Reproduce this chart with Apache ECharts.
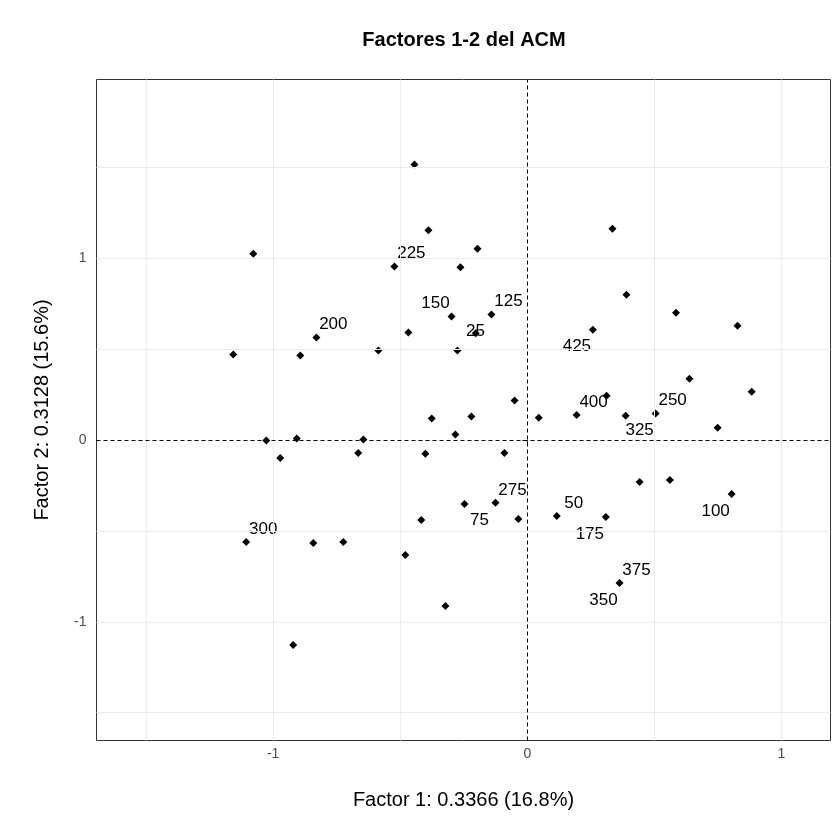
<!DOCTYPE html>
<html>
<head>
<meta charset="utf-8">
<title>Factores 1-2 del ACM</title>
<script src="https://cdn.jsdelivr.net/npm/echarts@6/dist/echarts.min.js"></script>
<style>
  html, body { margin: 0; padding: 0; background: #fff; }
  #chart { width: 840px; height: 840px; }
</style>
</head>
<body>
<div id="chart"></div>
<script>
// coordenadas de los individuos (posiciones distintas) en los factores 1 y 2
var factor1 = [
  -0.444, -1.078, -0.389, -0.196, -0.523, -0.263, -0.298, -0.141, -0.830, -0.468,
  -0.203, -1.157, -0.893, -0.586, -0.275, -0.050, -0.376, -0.220, -0.283, -1.027,
  -0.907, -0.645, 0.335, 0.390, 0.585, 0.258, 0.827, 0.638, 0.883, 0.045,
  0.194, 0.312, 0.387, 0.505, 0.749, -0.972, -0.665, -0.401, -0.090, -0.247,
  -0.125, -0.417, -0.035, -1.106, -0.842, -0.724, -0.480, -0.322, -0.921, 0.442,
  0.561, 0.804, 0.116, 0.309, 0.363
];
var factor2 = [
  1.517, 1.026, 1.155, 1.054, 0.956, 0.951, 0.681, 0.692, 0.565, 0.593,
  0.589, 0.472, 0.466, 0.494, 0.494, 0.218, 0.119, 0.130, 0.031, -0.002,
  0.009, 0.003, 1.164, 0.800, 0.701, 0.608, 0.630, 0.338, 0.266, 0.123,
  0.139, 0.244, 0.134, 0.147, 0.068, -0.098, -0.070, -0.075, -0.070, -0.351,
  -0.345, -0.439, -0.434, -0.560, -0.566, -0.560, -0.632, -0.913, -1.128, -0.230,
  -0.219, -0.296, -0.417, -0.423, -0.786
];

// individuos etiquetados (cada 25)
var etiquetas = ['25', '50', '75', '100', '125', '150', '175', '200', '225', '250', '275', '300', '325', '350', '375', '400', '425'];
var etiqX = [-0.141, 0.116, -0.125, 0.804, -0.141, -0.298, 0.309, -0.830, -0.523, 0.505, -0.125, -1.106, 0.505, 0.363, 0.363, 0.194, 0.258];
var etiqY = [0.692, -0.417, -0.345, -0.296, 0.692, 0.681, -0.423, 0.565, 0.956, 0.147, -0.345, -0.560, 0.147, -0.786, -0.786, 0.139, 0.608];

var ticksX = [-1, 0, 1];
var ticksY = [-1, 0, 1];
var rejillaX = [-1.5, -1, -0.5, 0.5, 1];
var rejillaY = [-1.5, -1, -0.5, 0.5, 1, 1.5];

// lado donde va cada etiqueta respecto al punto (ar: arriba-derecha, ai: arriba-izq, bi: abajo-izq)
var lado = ['bi', 'ar', 'bi', 'bi', 'ar', 'ai', 'bi', 'ar', 'ar', 'ar', 'ar', 'ar', 'bi', 'bi', 'ar', 'ar', 'bi'];
var desplaz = { ar: [17, -13], ai: [-16, -13], bi: [-16, 17] };

var fuente = '"Liberation Sans", Arial, sans-serif';
var chart = echarts.init(document.getElementById('chart'));

var puntos = factor1.map(function (x, i) { return [x, factor2[i]]; });
var datosEtiq = etiquetas.map(function (t, i) {
  return {
    value: [etiqX[i], etiqY[i]],
    name: t,
    label: { offset: desplaz[lado[i]] }
  };
});

var lineasRejilla = [];
rejillaX.forEach(function (v) { lineasRejilla.push({ xAxis: v }); });
rejillaY.forEach(function (v) { lineasRejilla.push({ yAxis: v }); });

var option = {
  backgroundColor: '#fff',
  animation: false,
  textStyle: { fontFamily: fuente },
  graphic: [{
    type: 'text',
    x: 464,
    y: 40,
    style: {
      text: 'Factores 1-2 del ACM',
      font: 'bold 20px ' + fuente,
      fill: '#000',
      align: 'center',
      verticalAlign: 'middle'
    }
  }],
  grid: {
    left: 96.5, right: 9.5, top: 79.5, bottom: 99.5,
    show: true, borderColor: '#333', borderWidth: 1, backgroundColor: 'transparent'
  },
  xAxis: {
    type: 'value',
    min: -1.695, max: 1.193,
    name: 'Factor 1: 0.3366 (16.8%)',
    nameLocation: 'middle',
    nameGap: 50,
    nameTextStyle: { fontSize: 20, color: '#000', fontFamily: fuente },
    axisLine: { show: false },
    axisTick: { show: true, length: 4, lineStyle: { color: '#333' }, customValues: ticksX },
    axisLabel: { color: '#4d4d4d', fontSize: 14, margin: 7, customValues: ticksX, fontFamily: fuente },
    splitLine: { show: false }
  },
  yAxis: {
    type: 'value',
    min: -1.653, max: 1.985,
    name: 'Factor 2: 0.3128 (15.6%)',
    nameLocation: 'middle',
    nameGap: 44,
    nameTextStyle: { fontSize: 20, color: '#000', fontFamily: fuente },
    axisLine: { show: false },
    axisTick: { show: true, length: 5, lineStyle: { color: '#333' }, customValues: ticksY },
    axisLabel: { color: '#4d4d4d', fontSize: 14, margin: 10, customValues: ticksY, fontFamily: fuente },
    splitLine: { show: false }
  },
  series: [
    {
      type: 'scatter',
      name: 'rejilla',
      data: [],
      silent: true,
      z: 1,
      markLine: {
        silent: true,
        symbol: ['none', 'none'],
        label: { show: false },
        lineStyle: { color: '#ebebeb', width: 1, type: 'solid' },
        emphasis: { disabled: true },
        data: lineasRejilla
      }
    },
    {
      type: 'scatter',
      name: 'ejes',
      data: [],
      silent: true,
      z: 2,
      markLine: {
        silent: true,
        symbol: ['none', 'none'],
        label: { show: false },
        lineStyle: { color: '#000', width: 1, type: [4, 3] },
        emphasis: { disabled: true },
        data: [{ xAxis: 0 }, { yAxis: 0 }]
      }
    },
    {
      type: 'scatter',
      name: 'individuos',
      data: puntos,
      symbol: 'diamond',
      symbolSize: 8,
      itemStyle: { color: '#000', opacity: 1 },
      z: 3
    },
    {
      type: 'scatter',
      name: 'etiquetas',
      data: datosEtiq,
      symbolSize: 1,
      itemStyle: { color: 'rgba(0,0,0,0)', opacity: 1 },
      z: 4,
      label: {
        show: true,
        position: 'inside',
        formatter: '{b}',
        color: '#000',
        opacity: 1,
        textBorderWidth: 0,
        fontSize: 17,
        fontFamily: fuente
      }
    }
  ]
};

chart.setOption(option);
</script>
</body>
</html>
